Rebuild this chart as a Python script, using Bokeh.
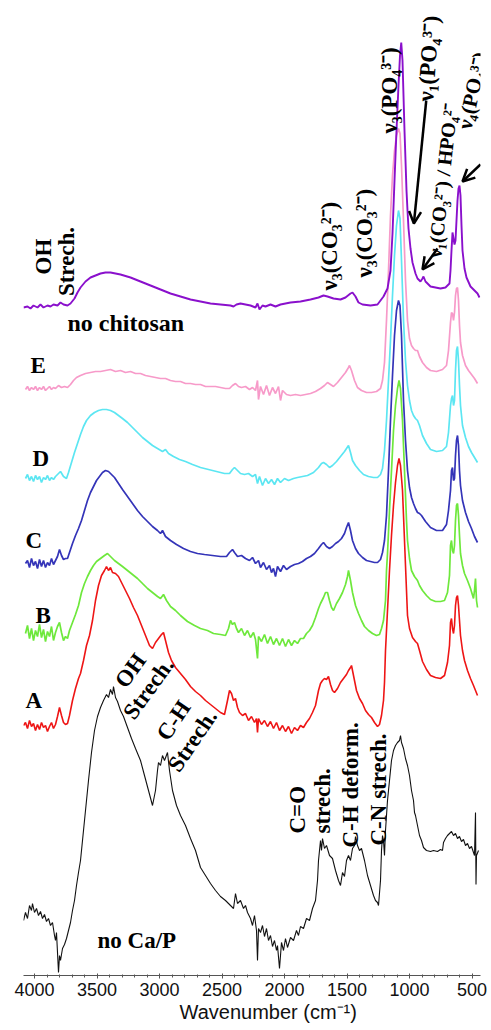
from bokeh.plotting import figure
from bokeh.models import Range1d, SingleIntervalTicker, LinearAxis, Label, Arrow, OpenHead, Title
from bokeh.embed import file_html
from bokeh.resources import INLINE
import math

# FTIR spectra: (wavenumber cm-1, stacked intensity in arbitrary units)
spec_no_chitosan = [(4088,668),(4056,669),(4032,667),(4008,670),(3976,668),(3952,671),(3928,668),(3896,670),(3872,669),(3848,671),(3816,670),(3792,673),(3768,671),(3736,670),(3712,672),(3680,677),(3656,683),(3632,688),(3592,694),(3552,698),(3512,700),(3472,702),(3432,703),(3392,703),(3352,702),(3312,701),(3232,698),(3152,694),(3072,690),(2992,686),(2912,682),(2832,679),(2752,676),(2672,674),(2592,672),(2512,671),(2432,670),(2408,669),(2384,671),(2352,672),(2312,671),(2272,670),(2232,668),(2216,672),(2200,666),(2176,670),(2152,669),(2112,671),(2072,669),(2032,671),(1952,673),(1872,674),(1792,676),(1728,678),(1688,680),(1656,679),(1608,677),(1552,676),(1512,678),(1472,682),(1456,683),(1432,679),(1408,673),(1376,671),(1312,670),(1256,671),(1208,679),(1176,687),(1152,705),(1136,742),(1120,795),(1104,845),(1088,890),(1076,920),(1066,933),(1056,915),(1048,880),(1040,845),(1032,815),(1024,785),(1016,765),(1008,747),(992,727),(976,713),(952,702),(936,697),(912,694),(896,697),(888,699),(872,694),(832,689),(752,687),(712,688),(680,692),(672,705),(664,725),(656,743),(648,737),(640,731),(632,735),(624,755),(616,775),(608,787),(600,790),(592,780),(584,750),(576,725),(560,707),(544,698),(512,689),(480,685),(456,682),(440,678)]

spec_E = [(4072,586),(4056,589),(4040,585),(4024,588),(4008,586),(3992,589),(3976,585),(3960,588),(3944,586),(3928,589),(3912,585),(3896,587),(3880,589),(3864,586),(3848,588),(3832,587),(3808,590),(3784,588),(3760,589),(3736,588),(3712,591),(3688,595),(3664,598),(3632,600),(3592,602),(3552,603),(3512,604),(3472,604),(3432,605),(3392,606),(3352,604),(3312,605),(3272,603),(3232,604),(3192,602),(3152,602),(3112,600),(3072,599),(3032,598),(2992,597),(2952,597),(2912,595),(2872,594),(2832,594),(2792,592),(2752,592),(2712,591),(2672,591),(2632,589),(2592,589),(2552,589),(2512,588),(2472,587),(2440,587),(2416,590),(2392,592),(2368,589),(2344,588),(2312,589),(2280,586),(2256,588),(2232,585),(2216,595),(2208,576),(2192,589),(2168,581),(2144,590),(2120,580),(2096,588),(2072,582),(2048,589),(2032,575),(2016,585),(1984,581),(1952,580),(1912,581),(1872,580),(1832,581),(1792,582),(1752,584),(1712,587),(1680,590),(1656,593),(1632,591),(1608,589),(1576,593),(1544,598),(1512,603),(1488,608),(1480,610),(1464,605),(1440,595),(1416,588),(1384,585),(1344,583),(1304,583),(1264,584),(1232,587),(1216,595),(1200,613),(1184,655),(1168,705),(1152,760),(1136,800),(1120,825),(1104,840),(1088,847),(1076,842),(1064,810),(1048,755),(1032,695),(1016,655),(1000,637),(984,630),(968,627),(952,625),(936,625),(920,619),(896,613),(864,608),(832,605),(784,604),(736,606),(704,610),(688,625),(672,653),(664,663),(656,662),(648,655),(640,663),(632,680),(624,687),(616,688),(608,675),(600,650),(592,633),(576,620),(552,610),(528,605),(504,601),(480,597),(456,592)]

spec_D = [(4072,497),(4056,501),(4040,495),(4024,499),(4008,494),(3992,500),(3976,496),(3960,499),(3944,493),(3928,498),(3912,496),(3896,500),(3880,495),(3864,498),(3848,496),(3832,499),(3816,501),(3792,504),(3768,499),(3744,497),(3728,503),(3704,513),(3680,523),(3656,532),(3632,541),(3608,549),(3584,555),(3552,560),(3520,563),(3488,565),(3456,566),(3424,566),(3392,565),(3360,563),(3328,560),(3296,557),(3256,553),(3216,548),(3176,543),(3136,538),(3096,534),(3056,530),(3016,527),(2976,524),(2952,526),(2928,522),(2888,519),(2840,516),(2792,514),(2736,511),(2672,508),(2608,506),(2544,504),(2480,502),(2440,502),(2416,506),(2400,508),(2376,505),(2352,502),(2320,501),(2288,502),(2256,499),(2232,501),(2216,492),(2200,499),(2176,490),(2152,497),(2128,492),(2104,496),(2080,491),(2056,497),(2032,493),(2000,497),(1968,495),(1928,497),(1896,498),(1856,499),(1816,500),(1768,503),(1728,508),(1704,512),(1688,513),(1664,511),(1640,508),(1616,510),(1584,514),(1552,519),(1520,524),(1504,527),(1488,530),(1472,523),(1456,515),(1432,510),(1400,505),(1368,501),(1328,499),(1288,498),(1256,498),(1232,501),(1216,507),(1200,525),(1184,555),(1168,595),(1152,635),(1136,680),(1120,720),(1104,750),(1088,765),(1076,757),(1064,715),(1048,655),(1032,615),(1016,590),(1000,575),(984,565),(968,560),(952,557),(936,555),(920,550),(896,540),(864,532),(832,526),(784,524),(736,525),(704,529),(688,543),(672,570),(664,577),(656,580),(648,570),(640,575),(632,605),(624,625),(616,629),(608,615),(600,590),(592,570),(576,550),(552,538),(528,529),(504,523),(480,518),(456,513)]

spec_C = [(4072,412),(4056,415),(4040,408),(4024,417),(4008,410),(3992,414),(3976,407),(3960,416),(3944,409),(3928,415),(3912,408),(3896,413),(3880,410),(3864,417),(3848,411),(3832,415),(3816,419),(3800,426),(3784,420),(3768,416),(3752,417),(3736,417),(3720,423),(3696,432),(3672,440),(3648,447),(3624,455),(3600,465),(3576,475),(3552,483),(3528,489),(3504,495),(3480,499),(3456,503),(3432,505),(3408,504),(3384,501),(3360,498),(3328,492),(3296,486),(3256,479),(3216,472),(3176,465),(3136,459),(3096,454),(3056,449),(3016,445),(2992,442),(2976,445),(2952,439),(2912,435),(2864,431),(2808,427),(2752,424),(2696,422),(2640,421),(2576,420),(2512,419),(2464,419),(2440,423),(2416,426),(2400,423),(2376,419),(2344,420),(2312,417),(2280,415),(2256,418),(2232,412),(2208,415),(2192,408),(2168,413),(2144,406),(2120,410),(2104,403),(2088,407),(2072,399),(2056,409),(2032,404),(2008,410),(1984,406),(1952,409),(1920,411),(1888,412),(1856,414),(1824,417),(1792,419),(1760,422),(1728,427),(1704,431),(1688,433),(1664,429),(1640,427),(1616,429),(1592,432),(1568,434),(1544,437),(1520,442),(1504,448),(1488,453),(1472,445),(1456,435),(1432,427),(1408,422),(1376,418),(1344,415),(1312,414),(1280,413),(1256,413),(1232,416),(1216,423),(1200,435),(1184,460),(1168,505),(1152,555),(1136,600),(1120,640),(1104,665),(1088,675),(1076,670),(1064,640),(1048,575),(1032,535),(1016,505),(1000,488),(984,478),(968,472),(952,467),(936,463),(920,462),(904,460),(872,454),(832,448),(784,445),(736,445),(704,451),(688,465),(672,485),(664,505),(656,508),(648,495),(640,497),(632,520),(624,535),(616,540),(608,530),(600,505),(592,490),(576,475),(552,463),(528,454),(504,447),(480,439),(456,433)]

spec_B = [(4072,342),(4056,350),(4040,337),(4024,347),(4008,335),(3992,345),(3976,339),(3960,351),(3944,338),(3928,346),(3912,334),(3896,344),(3880,339),(3864,349),(3848,335),(3832,343),(3816,349),(3800,353),(3784,343),(3768,335),(3752,339),(3736,337),(3720,345),(3696,353),(3672,361),(3648,370),(3624,383),(3600,392),(3576,399),(3552,405),(3528,410),(3504,414),(3472,417),(3440,420),(3416,422),(3392,419),(3360,415),(3328,412),(3296,409),(3256,405),(3216,401),(3176,397),(3136,392),(3096,387),(3056,383),(3016,379),(2992,377),(2968,381),(2944,375),(2912,369),(2872,365),(2832,360),(2776,354),(2720,350),(2672,347),(2616,345),(2568,342),(2512,341),(2472,340),(2448,347),(2432,355),(2416,351),(2400,353),(2384,347),(2368,343),(2344,347),(2320,340),(2296,345),(2272,338),(2248,343),(2232,336),(2216,317),(2208,339),(2184,334),(2160,341),(2136,332),(2112,339),(2088,331),(2064,337),(2040,330),(2016,337),(1992,329),(1968,336),(1944,330),(1920,335),(1896,332),(1872,337),(1848,337),(1824,342),(1800,345),(1776,350),(1752,358),(1728,367),(1712,372),(1688,378),(1672,383),(1656,383),(1640,375),(1624,368),(1608,365),(1584,372),(1560,377),(1536,383),(1512,391),(1496,399),(1488,405),(1472,395),(1456,383),(1432,370),(1408,362),(1384,355),(1360,349),(1328,345),(1296,342),(1264,340),(1240,341),(1224,347),(1208,355),(1192,375),(1184,405),(1176,422),(1160,465),(1144,505),(1128,545),(1112,570),(1096,587),(1084,595),(1072,587),(1056,555),(1040,505),(1024,455),(1016,435),(1000,417),(984,405),(960,399),(936,395),(920,390),(896,385),(864,380),(832,376),(792,374),(752,374),(720,375),(696,383),(680,400),(672,430),(664,435),(656,425),(648,422),(640,430),(632,455),(624,470),(616,472),(608,460),(600,440),(592,422),(576,410),(560,402),(536,395),(512,387),(488,377),(480,385),(472,397),(464,375),(456,368)]

spec_A = [(4088,250),(4072,253),(4056,247),(4040,255),(4024,249),(4008,252),(3992,245),(3976,251),(3960,246),(3944,253),(3928,248),(3912,250),(3896,244),(3880,249),(3864,253),(3848,247),(3832,251),(3816,259),(3800,268),(3784,260),(3768,253),(3752,251),(3736,252),(3720,260),(3696,275),(3672,287),(3648,297),(3632,302),(3608,315),(3584,330),(3560,340),(3536,355),(3512,375),(3488,390),(3464,400),(3440,405),(3424,409),(3408,405),(3392,408),(3376,403),(3352,402),(3328,399),(3304,393),(3272,385),(3240,377),(3208,368),(3176,360),(3144,350),(3112,340),(3080,330),(3056,327),(3032,333),(3008,337),(2984,341),(2968,343),(2952,335),(2928,323),(2904,315),(2872,308),(2832,302),(2792,296),(2752,289),(2712,284),(2672,280),(2632,275),(2592,271),(2552,267),(2512,263),(2480,261),(2456,275),(2440,285),(2424,282),(2408,275),(2392,277),(2376,268),(2360,263),(2336,260),(2312,262),(2288,255),(2264,259),(2240,253),(2224,257),(2216,243),(2208,257),(2184,251),(2160,255),(2136,249),(2112,254),(2088,247),(2064,253),(2040,245),(2016,250),(1992,244),(1968,249),(1944,242),(1920,248),(1896,245),(1872,250),(1848,248),(1824,253),(1800,257),(1776,263),(1752,270),(1728,285),(1712,292),(1696,295),(1680,297),(1664,296),(1648,299),(1632,291),(1616,285),(1600,283),(1576,287),(1552,293),(1528,297),(1504,301),(1488,305),(1472,308),(1464,310),(1448,300),(1424,285),(1400,277),(1376,272),(1352,265),(1328,261),(1304,258),(1280,253),(1256,249),(1240,251),(1224,260),(1208,275),(1200,293),(1192,325),(1176,365),(1160,405),(1144,440),(1128,470),(1112,493),(1096,510),(1084,517),(1072,510),(1056,485),(1040,435),(1024,385),(1016,360),(1000,347),(976,338),(952,334),(936,332),(920,325),(896,314),(864,306),(832,300),(792,298),(752,297),(720,300),(696,313),(680,330),(672,353),(664,357),(656,347),(648,342),(640,350),(632,370),(624,378),(616,380),(608,370),(600,355),(592,340),(576,325),(560,315),(536,305),(512,297),(488,290),(472,285),(456,280)]

spec_no_CaP = [(4088,55),(4072,63),(4056,57),(4040,70),(4024,65),(4016,72),(4000,63),(3984,67),(3968,60),(3952,64),(3936,57),(3920,61),(3904,54),(3888,57),(3872,50),(3856,53),(3840,40),(3832,35),(3824,43),(3816,23),(3808,3),(3800,20),(3792,15),(3776,27),(3760,31),(3744,37),(3728,45),(3712,53),(3696,65),(3680,75),(3664,90),(3648,103),(3632,115),(3616,135),(3592,165),(3568,195),(3544,223),(3520,245),(3496,259),(3472,268),(3448,275),(3424,281),(3408,278),(3392,286),(3376,281),(3368,289),(3352,278),(3336,274),(3312,265),(3288,259),(3256,248),(3224,237),(3192,227),(3152,215),(3120,200),(3088,185),(3056,170),(3032,185),(3016,205),(3008,213),(2992,210),(2976,220),(2960,215),(2936,223),(2920,205),(2896,185),(2864,170),(2832,160),(2792,150),(2752,137),(2712,125),(2672,108),(2632,100),(2592,92),(2552,85),(2512,79),(2472,75),(2432,70),(2408,67),(2392,82),(2376,72),(2352,75),(2328,67),(2312,70),(2296,63),(2272,57),(2256,50),(2240,60),(2224,45),(2216,15),(2208,47),(2192,43),(2176,50),(2160,39),(2144,47),(2128,35),(2112,40),(2096,29),(2080,35),(2064,25),(2056,30),(2040,7),(2024,33),(2008,25),(1992,37),(1976,28),(1952,38),(1928,35),(1904,45),(1888,40),(1872,49),(1848,47),(1824,57),(1800,55),(1776,67),(1752,75),(1736,95),(1728,115),(1712,135),(1704,125),(1696,137),(1680,127),(1664,130),(1640,120),(1616,117),(1592,105),(1568,95),(1552,90),(1536,103),(1520,99),(1504,115),(1488,120),(1472,115),(1456,127),(1440,130),(1432,139),(1416,130),(1400,125),(1384,127),(1360,115),(1336,100),(1312,90),(1288,80),(1272,75),(1256,73),(1248,70),(1232,95),(1224,125),(1216,140),(1208,135),(1200,120),(1192,145),(1176,175),(1160,195),(1144,215),(1128,225),(1112,230),(1096,233),(1080,235),(1072,240),(1064,233),(1048,227),(1032,217),(1016,210),(1000,200),(984,185),(968,175),(960,163),(952,160),(936,150),(920,140),(904,135),(888,128),(864,125),(832,124),(808,125),(776,124),(752,126),(736,125),(728,133),(712,137),(696,140),(680,142),(664,144),(648,140),(632,142),(616,137),(600,139),(584,134),(568,136),(552,130),(536,132),(520,127),(504,129),(488,123),(480,120),(472,163),(468,91),(464,120),(448,125)]

x_ticks_interval = 500

p = figure(width=491, height=1030, output_backend="svg", toolbar_location=None,
           x_range=Range1d(4088, 432), y_range=Range1d(0, 975),
           x_axis_type=None, y_axis_type=None,
           min_border_left=23, min_border_right=11, min_border_top=0, min_border_bottom=55)
p.outline_line_color = None
p.background_fill_color = "white"
p.border_fill_color = "white"

series = [
    (spec_no_CaP, "#111111", 1.1),
    (spec_E, "#f79ac9", 1.7),
    (spec_D, "#5ce6f2", 1.7),
    (spec_C, "#3434b8", 1.7),
    (spec_B, "#6ee83c", 1.7),
    (spec_A, "#ee1515", 1.6),
    (spec_no_chitosan, "#8a10cc", 1.9),
]
for data, color, lw in series:
    xs = [d[0] for d in data]
    ys = [d[1] for d in data]
    p.line(xs, ys, line_color=color, line_width=lw)

xaxis = LinearAxis(ticker=SingleIntervalTicker(interval=x_ticks_interval, num_minor_ticks=5))
xaxis.axis_line_color = "#555555"
xaxis.major_tick_line_color = "#555555"
xaxis.minor_tick_line_color = "#555555"
xaxis.major_tick_in = 2
xaxis.major_tick_out = 3
xaxis.minor_tick_in = 1
xaxis.minor_tick_out = 2
xaxis.major_label_text_font = "Liberation Sans"
xaxis.major_label_text_font_size = "18px"
xaxis.major_label_text_color = "#111111"
xaxis.major_label_standoff = 4
p.add_layout(xaxis, "below")

p.add_layout(Title(text="Wavenumber (cm\u207b\u00b9)", align="left", offset=156,
                   text_font="Liberation Sans", text_font_size="20px",
                   text_font_style="normal", text_color="#111111", standoff=0), "below")

def lab(x, y, text, angle_deg=0, align="left", baseline="alphabetic", size="23px",
        font="Liberation Serif", style="bold"):
    p.add_layout(Label(x=x, y=y, text=text, angle=math.radians(angle_deg), angle_units="rad",
                       text_align=align, text_baseline=baseline, text_font=font,
                       text_font_style=style, text_font_size=size, text_color="black"))

lab(3928, 719, "OH", 90, align="center")
lab(3744, 714, "Strech.", 90, align="center")
lab(3736, 653, "no chitosan", size="24px")
lab(4032, 610, "E")
lab(4016, 517, "D")
lab(4072, 435, "C")
lab(3992, 360, "B")
lab(4072, 275, "A")
lab(3496, 35, "no Ca/P")
lab(3232, 305, "OH", 54, align="center", baseline="middle")
lab(3088, 287, "Strech.", 54, align="center", baseline="middle")
lab(2888, 255, "C-H", 56, align="center", baseline="middle")
lab(2736, 235, "Strech.", 56, align="center", baseline="middle")
lab(1896, 142, "C=O", 90)
lab(1696, 142, "strech.", 90)
lab(1472, 128, "C-H deform.", 90)
lab(1248, 130, "C-N strech.", 90)
lab(1640, 685, "\u03bd\u2083(CO\u2083\u00b2\u207b)", 90)
lab(1360, 698, "\u03bd\u2083(CO\u2083\u00b2\u207b)", 90)
lab(1160, 842, "\u03bd\u2083(PO\u2084\u00b3\u207b)", 90)
lab(848, 917, "\u03bd\u2081(PO\u2084\u00b3\u207b)", 86, align="center", baseline="middle")
lab(736, 795, "\u03bd\u2081(CO\u2083\u00b2\u207b) / HPO\u2084\u00b2\u207b", 84, align="center",
    baseline="middle", size="20px")
lab(496, 885, "\u03bd\u2084(PO\u2084\u00b3\u207b)", 78, align="center", baseline="middle",
    size="21px")

for (xs_, ys_, xe, ye) in [(866, 875, 965, 752), (776, 727, 896, 706), (432, 811, 576, 794)]:
    p.add_layout(Arrow(end=OpenHead(size=12, line_width=2.5, line_color="black"),
                       x_start=xs_, y_start=ys_, x_end=xe, y_end=ye,
                       line_width=2.5, line_color="black"))

open("out.html", "w").write(file_html(p, INLINE))
